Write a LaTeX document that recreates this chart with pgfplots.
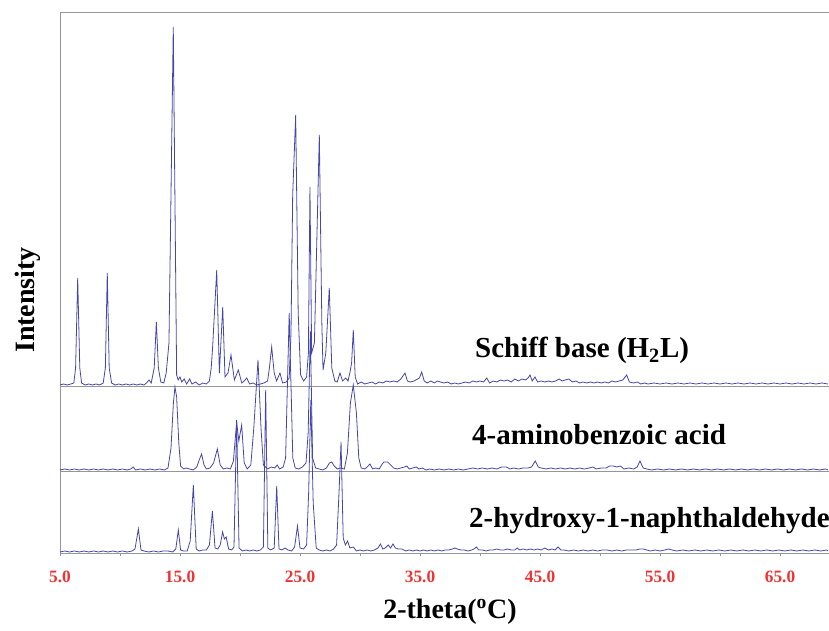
\documentclass[border=0pt]{standalone}
\usepackage{fontspec}
\setmainfont{Liberation Serif}
\usepackage{pgfplots}
\pgfplotsset{compat=1.18}
\definecolor{xrd}{RGB}{70,70,170}
\definecolor{axgray}{RGB}{150,150,150}
\definecolor{ticred}{RGB}{240,50,50}
\begin{document}
\begin{tikzpicture}
\begin{axis}[
  at={(0,0)}, anchor=south west,
  scale only axis, width=576.75pt, height=405.75pt,
  xmin=5, xmax=69.083, ymin=0, ymax=541,
  axis x line=bottom, axis y line=left,
  axis line style={-, draw=axgray, line width=0.6pt},
  xtick={5,15,25,35,45,55,65},
  xticklabels={\textbf{5.0},\textbf{15.0},\textbf{25.0},\textbf{35.0},\textbf{45.0},\textbf{55.0},\textbf{65.0}},
  minor xtick={10,20,30,40,50,60},
  ytick=\empty,
  tick align=outside,
  major tick length=2.5pt, minor tick length=2.5pt,
  every tick/.style={axgray, line width=0.5pt},
  xticklabel style={font=\fontsize{13}{13}\selectfont\bfseries, text=ticred, anchor=base, yshift=-20pt},
  /pgf/number format/assume math mode=true,
  clip=false,
]
\addplot[axgray, line width=0.6pt] coordinates {(5,541) (69.083,541)};
\addplot[axgray, line width=0.6pt] coordinates {(5,167) (69.083,167)};
\addplot[axgray, line width=0.6pt] coordinates {(5,82) (69.083,82)};
% Schiff base (top)
\addplot[xrd, line width=0.6pt] coordinates {
(5.0,168) (5.3,169) (5.6,168) (5.9,169) (6.15,170) (6.3,185) (6.475,275) (6.65,185) (6.8,170)
(7.1,168) (7.4,169) (7.7,168) (8.0,169) (8.3,168) (8.6,170) (8.78,185) (8.94,280) (9.1,185) (9.3,170)
(9.6,168) (9.9,169) (10.2,168) (10.5,169) (10.8,168) (11.1,169) (11.4,168) (11.7,169) (12.0,168)
(12.2,170) (12.42,173) (12.6,170) (12.85,185) (13.03,231) (13.2,185) (13.4,171) (13.65,170) (13.85,180)
(14.08,210) (14.44,526) (14.72,178) (14.85,173) (15.0,176) (15.15,171) (15.35,174) (15.55,169) (15.8,174)
(16.0,169) (16.3,171) (16.6,168) (16.9,170) (17.2,169) (17.45,172) (17.6,185) (17.72,206) (18.06,283)
(18.28,180) (18.56,246) (18.75,176) (19.0,180) (19.25,198) (19.53,173) (19.86,183) (20.15,170) (20.35,172)
(20.56,175) (20.8,169) (21.1,170) (21.4,168) (21.7,169) (22.0,170) (22.3,172) (22.45,185) (22.64,206)
(22.85,180) (23.05,172) (23.33,180) (23.55,170) (23.85,171) (24.1,175) (24.25,220) (24.39,358) (24.64,438)
(24.85,240) (25.05,178) (25.3,172) (25.55,176) (25.7,200) (25.83,366) (25.97,200) (26.2,210) (26.61,418)
(26.82,230) (26.92,183) (27.15,200) (27.44,265) (27.65,185) (27.9,172) (28.1,171) (28.33,180) (28.55,172)
(28.8,175) (29.0,172) (29.17,181) (29.3,190) (29.44,223) (29.6,176) (29.8,169) (30.1,171) (30.4,169)
(30.7,170) (31.0,171) (31.3,169) (31.6,171) (31.9,170) (32.2,172) (32.5,171) (32.8,172) (33.1,171)
(33.4,174) (33.75,180) (33.95,172) (34.2,171) (34.5,172) (34.8,174) (34.95,175) (35.14,181) (35.35,172)
(35.6,170) (35.9,172) (36.2,170) (36.45,172) (36.7,171) (37.0,170) (37.3,171) (37.6,169) (37.9,170)
(38.2,169) (38.5,170) (38.8,171) (39.1,170) (39.4,172) (39.7,171) (40.0,172) (40.3,171) (40.56,175)
(40.8,170) (41.1,172) (41.4,171) (41.7,173) (42.0,172) (42.3,173) (42.6,171) (42.9,174) (43.2,172)
(43.5,174) (43.8,173) (44.0,175) (44.17,178) (44.35,172) (44.58,176) (44.8,171) (45.1,172) (45.4,171)
(45.7,172) (46.0,171) (46.3,172) (46.6,174) (46.85,172) (47.1,173) (47.4,174) (47.7,171) (48.0,172)
(48.3,170) (48.6,171) (48.9,170) (49.2,171) (49.5,170) (49.8,171) (50.1,170) (50.4,171) (50.7,170)
(51.0,172) (51.3,171) (51.6,172) (51.9,173) (52.22,178) (52.45,171) (52.8,170) (53.1,171) (53.4,169)
(53.7,170) (54.0,169) (54.5,170) (55.0,169) (55.5,170) (56.0,169) (56.5,170) (57.0,169) (57.5,170)
(58.0,169) (58.5,170) (59.0,169) (59.5,170) (60.0,169) (60.5,170) (61.0,169) (61.5,170) (62.0,169)
(62.5,170) (63.0,169) (63.5,170) (64.0,169) (64.5,170) (65.0,169) (65.5,170) (66.0,169) (66.5,170)
(67.0,169) (67.5,170) (68.0,169) (68.5,170) (69.0,169)
};
% 4-aminobenzoic acid (middle)
\addplot[xrd, line width=0.6pt] coordinates {
(5.0,83) (5.4,84) (5.8,83) (6.2,84) (6.6,83) (7.0,84) (7.4,83) (7.8,84) (8.2,83) (8.6,84) (9.0,83)
(9.4,84) (9.8,83) (10.2,84) (10.6,83) (10.9,84) (11.1,86) (11.3,83) (11.7,84) (12.1,83) (12.5,84)
(12.9,83) (13.3,84) (13.7,83) (14.0,85) (14.25,105) (14.45,150) (14.58,166) (14.72,156) (14.9,110)
(15.05,87) (15.3,84) (15.5,85) (15.8,84) (16.1,83) (16.4,86) (16.6,93) (16.8,99) (17.0,88) (17.2,84)
(17.5,85) (17.8,90) (18.11,104) (18.35,88) (18.6,84) (18.9,85) (19.2,84) (19.45,92) (19.72,131)
(19.9,112) (20.14,128) (20.35,90) (20.6,84) (20.9,88) (21.15,125) (21.5,193) (21.75,125) (21.95,88)
(22.3,84) (22.6,86) (22.9,85) (23.1,88) (23.3,84) (23.6,86) (23.8,95) (24.1,240) (24.4,95) (24.6,85)
(24.9,84) (25.2,86) (25.5,90) (25.68,120) (25.86,222) (26.05,95) (26.3,85) (26.6,84) (26.9,83)
(27.2,85) (27.45,90) (27.64,91) (27.85,87) (28.1,84) (28.4,85) (28.7,84) (28.95,100) (29.2,150)
(29.44,168) (29.7,140) (29.9,95) (30.1,85) (30.4,84) (30.6,86) (30.83,89) (31.05,84) (31.3,85)
(31.6,84) (31.85,89) (32.0,91) (32.3,91) (32.55,88) (32.8,85) (33.1,84) (33.4,85) (33.7,86) (33.9,87)
(34.1,84) (34.4,85) (34.7,86) (34.9,84) (35.2,85) (35.5,83) (35.8,84) (36.2,83) (36.6,84) (37.0,83)
(37.4,84) (37.8,83) (38.2,84) (38.6,83) (39.0,84) (39.4,85) (39.8,84) (40.2,85) (40.6,84) (41.0,85)
(41.4,84) (41.8,86) (42.2,86) (42.5,84) (42.8,85) (43.2,84) (43.6,85) (44.0,85) (44.3,86) (44.6,92)
(44.85,86) (45.1,85) (45.5,84) (45.9,85) (46.3,84) (46.7,85) (47.1,84) (47.5,85) (47.9,84) (48.3,85)
(48.7,84) (49.1,85) (49.4,86) (49.7,84) (50.1,85) (50.5,85) (50.8,87) (51.1,87) (51.4,86) (51.7,87)
(52.0,84) (52.4,85) (52.8,84) (53.1,86) (53.33,92) (53.6,85) (53.9,84) (54.3,83) (54.8,84) (55.3,83)
(55.8,84) (56.3,83) (56.8,84) (57.3,83) (57.8,84) (58.3,83) (58.8,84) (59.3,83) (59.8,84) (60.3,83)
(60.8,84) (61.3,83) (61.8,84) (62.3,83) (62.8,84) (63.3,83) (63.8,84) (64.3,83) (64.8,84) (65.3,83)
(65.8,84) (66.3,83) (66.8,84) (67.3,83) (67.8,84) (68.3,83) (68.8,84) (69.0,83)
};
% 2-hydroxy-1-naphthaldehyde (bottom)
\addplot[xrd, line width=0.6pt] coordinates {
(5.0,1) (5.4,2) (5.8,1) (6.2,2) (6.6,1) (7.0,2) (7.4,1) (7.8,2) (8.2,1) (8.6,2) (9.0,1) (9.4,2)
(9.8,1) (10.2,2) (10.6,1) (11.0,2) (11.25,4) (11.53,24) (11.75,3) (12.0,2) (12.4,1) (12.8,2) (13.2,1)
(13.6,2) (14.0,2) (14.4,1) (14.65,4) (14.86,23) (15.05,3) (15.3,2) (15.6,2) (15.85,12) (16.11,68)
(16.35,4) (16.6,2) (16.9,3) (17.2,3) (17.45,8) (17.7,42) (17.92,5) (18.15,4) (18.35,8) (18.55,21)
(18.7,14) (18.85,16) (19.05,4) (19.3,3) (19.5,6) (19.72,133) (19.92,5) (20.2,2) (20.5,3) (20.8,2)
(21.1,3) (21.4,2) (21.7,3) (21.95,6) (22.14,163) (22.32,5) (22.55,3) (22.85,5) (23.06,67) (23.25,4)
(23.5,3) (23.75,5) (24.0,3) (24.3,2) (24.55,6) (24.79,27) (25.0,5) (25.3,4) (25.55,8) (25.72,60)
(25.9,153) (26.1,50) (26.35,5) (26.6,3) (26.9,2) (27.2,3) (27.5,2) (27.8,4) (28.05,8) (28.25,60)
(28.42,111) (28.6,15) (28.78,8) (28.97,12) (29.15,5) (29.45,6) (29.7,2) (30.0,3) (30.3,2) (30.6,3)
(30.9,2) (31.2,3) (31.5,5) (31.7,9) (31.9,4) (32.1,5) (32.35,8) (32.55,5) (32.75,9) (32.95,5) (33.2,4)
(33.5,4) (33.8,2) (34.1,3) (34.4,2) (34.7,3) (35.0,2) (35.3,3) (35.6,2) (35.9,3) (36.2,2) (36.5,3)
(36.8,2) (37.1,3) (37.4,3) (37.7,4) (37.9,5) (38.1,4) (38.4,3) (38.7,3) (39.0,2) (39.3,3) (39.5,4)
(39.7,6) (39.9,3) (40.2,3) (40.5,2) (40.8,3) (41.1,3) (41.4,4) (41.7,3) (42.0,3) (42.3,4) (42.6,3)
(42.9,3) (43.1,5) (43.3,3) (43.6,4) (43.9,3) (44.2,4) (44.5,3) (44.8,4) (45.1,3) (45.4,5) (45.7,3)
(46.0,4) (46.25,3) (46.5,6) (46.75,3) (47.0,3) (47.4,2) (47.8,3) (48.2,2) (48.6,3) (49.0,2) (49.4,3)
(49.8,2) (50.2,3) (50.6,3) (51.0,2) (51.4,3) (51.8,2) (52.2,3) (52.6,3) (53.0,3) (53.3,4) (53.6,4)
(53.9,3) (54.2,2) (54.6,3) (55.0,2) (55.4,3) (55.7,4) (56.0,3) (56.4,2) (56.9,3) (57.4,2) (57.9,3)
(58.4,2) (58.9,3) (59.4,2) (59.9,3) (60.4,2) (60.9,3) (61.4,2) (61.9,3) (62.4,2) (62.9,3) (63.4,2)
(63.9,3) (64.4,2) (64.9,3) (65.4,2) (65.9,3) (66.4,2) (66.9,3) (67.4,2) (67.9,3) (68.4,2) (68.9,3) (69.0,2)
};
\node[anchor=base west, inner sep=0pt, font=\fontsize{21.75}{22}\selectfont\bfseries] at (axis cs:39.58,195) {Schiff base (H\textsubscript{2}L)};
\node[anchor=base west, inner sep=0pt, font=\fontsize{21.75}{22}\selectfont\bfseries] at (axis cs:39.33,108) {4-aminobenzoic acid};
\node[anchor=base west, inner sep=0pt, font=\fontsize{21.75}{22}\selectfont\bfseries] at (axis cs:39.08,25) {2-hydroxy-1-naphthaldehyde};
\node[anchor=base, inner sep=0pt, font=\fontsize{21}{21}\selectfont\bfseries] at (axis cs:37.5,-66) {2-theta(\textsuperscript{o}C)};
\node[anchor=base, rotate=90, inner sep=0pt, font=\fontsize{21}{21}\selectfont\bfseries] at (axis cs:2.85,253) {Intensity};
\end{axis}
\pgfresetboundingbox
\path (-45pt,-58.5pt) rectangle (576.75pt,414.75pt);
\end{tikzpicture}
\end{document}
